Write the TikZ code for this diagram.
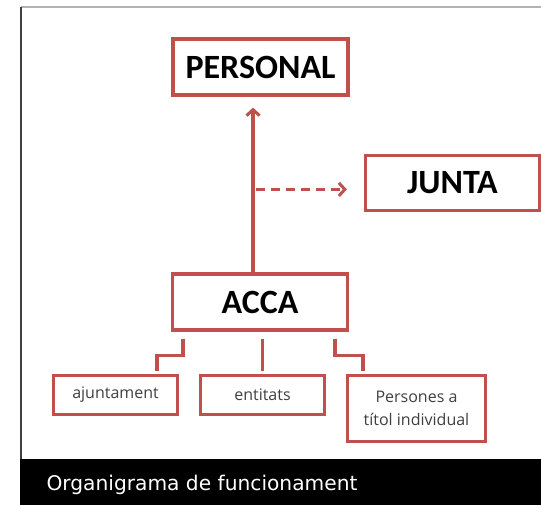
\documentclass[tikz,border=0pt]{standalone}
\usepackage{fontspec}
\newfontfamily\titlefont{Carlito}
\newfontfamily\labelfont{Open Sans}
\newfontfamily\captionfont{DejaVu Sans}
\definecolor{accared}{RGB}{192, 80, 77}
\definecolor{textgray}{RGB}{64, 64, 64}
\usetikzlibrary{arrows.meta, positioning, calc, shadows}

\tikzset{
  mainbox/.style={draw=accared, line width=3.2pt, fill=white, minimum width=175pt, minimum height=56pt,
    font=\titlefont\bfseries\fontsize{34}{34}\selectfont,
    drop shadow={shadow xshift=1.5pt, shadow yshift=-1.5pt, opacity=0.25, fill=gray}},
  subbox/.style={draw=accared, line width=3pt, fill=white, minimum width=124pt, minimum height=39pt,
    align=center, text=textgray, font=\labelfont\fontsize{16}{23}\selectfont,
    drop shadow={shadow xshift=1.2pt, shadow yshift=-1.2pt, opacity=0.2, fill=gray}},
  link/.style={draw=accared, line width=3.4pt},
  tip/.style={-{Straight Barb[length=6pt, width=13pt, line width=3pt]}}
}

\begin{document}
\begin{tikzpicture}[x=1pt, y=-1pt]
  \useasboundingbox (0,0) rectangle (541,505);

  % frame and caption bar
  \draw[gray!60, line width=2pt] (21,7) -- (541,7);
  \draw[black!75, line width=1.5pt] (21,7) -- (21,459);
  \fill[black] (20.25,459) rectangle (541,505);
  \node[anchor=base west, text=white, font=\captionfont\fontsize{20.2}{24}\selectfont] (caption) at (43,490) {Organigrama de funcionament};

  % top level
  \node[mainbox] (personal) at (260.5,67) {PERSONAL};
  \node[mainbox, minimum width=174pt, minimum height=55pt] (junta) at (452.5,183) {JUNTA};
  \node[mainbox] (acca) at (260,302) {ACCA};

  % members
  \node[subbox] (ajunt) at (115.5,395) {ajuntament};
  \node[subbox] (entitats) at (262.5,395) {entitats};
  \node[subbox, minimum width=138pt, minimum height=66pt] (persones) at (416.5,408.5) {Persones a\\títol individual};

  % arrows
  \coordinate (fork) at ($(acca.north)+(-7,-83)$);
  \draw[link, tip] ($(acca.north)+(-7,0)$) -- ($(personal.south)+(-7.5,11)$);
  \draw[link, tip, dash pattern=on 9pt off 6pt, shorten <=3pt, shorten >=17pt] (fork) -- (fork -| junta.west);

  % links to members
  \draw[link] ($(acca.south)+(-77,7)$) -- ++(0,17) -| ($(ajunt.north)+(41.5,-3)$);
  \draw[link] ($(acca.south)+(2.5,7)$) -- ($(entitats.north)+(0,-3)$);
  \draw[link] ($(acca.south)+(75,7)$) -- ++(0,17) -| ($(persones.north)+(-53.5,-3)$);
\end{tikzpicture}
\end{document}
